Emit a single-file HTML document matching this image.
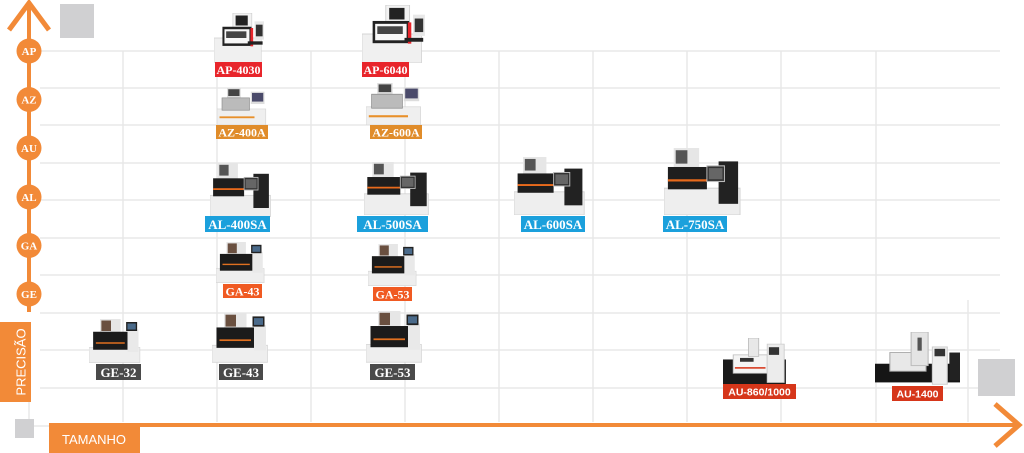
<!DOCTYPE html>
<html><head><meta charset="utf-8"><style>
html,body{margin:0;padding:0;background:#fff;}
svg{display:block;}
.lb{font-family:"Liberation Serif",serif;font-weight:bold;font-size:12px;fill:#fff;text-anchor:middle;}
.ax{font-family:"Liberation Serif",serif;font-weight:bold;font-size:11px;fill:#fff;text-anchor:middle;}
</style></head><body>
<svg width="1024" height="453" viewBox="0 0 1024 453" xmlns="http://www.w3.org/2000/svg">
<defs>
<symbol id="mAL" viewBox="0 0 80 60" preserveAspectRatio="none">
<rect x="0" y="36" width="78" height="24" fill="#eeeeee" stroke="#d4d4d4"/>
<rect x="10" y="0" width="26" height="18" fill="#e6e6e6"/>
<rect x="12" y="2" width="12" height="12" fill="#555"/>
<rect x="4" y="17" width="40" height="20" fill="#1e1e1e"/>
<rect x="4" y="28" width="40" height="2" fill="#e86a1c"/>
<rect x="56" y="12" width="20" height="38" fill="#222"/>
<rect x="44" y="16" width="18" height="14" fill="#333" stroke="#bbb"/>
<rect x="46" y="18" width="14" height="10" fill="#666"/>
</symbol>
<symbol id="mGE" viewBox="0 0 80 60" preserveAspectRatio="none">
<rect x="0" y="38" width="74" height="20" fill="#eeeeee" stroke="#d6d6d6"/>
<rect x="16" y="0" width="30" height="18" fill="#e6e6e6"/>
<rect x="18" y="2" width="14" height="14" fill="#6a5040"/>
<rect x="6" y="17" width="50" height="24" fill="#1b1b1b"/>
<rect x="10" y="31" width="42" height="2" fill="#e07020"/>
<rect x="56" y="14" width="16" height="30" fill="#e9e9e9"/>
<rect x="54" y="4" width="16" height="12" fill="#222"/>
<rect x="56" y="6" width="12" height="8" fill="#4a6a8a"/>
</symbol>
<symbol id="mAP" viewBox="0 0 80 60" preserveAspectRatio="none">
<rect x="0" y="30" width="70" height="30" fill="#f0f0f0" stroke="#d4d4d4"/>
<rect x="28" y="0" width="28" height="18" fill="#f2f2f2" stroke="#ccc"/>
<rect x="32" y="3" width="18" height="12" fill="#222"/>
<rect x="14" y="18" width="40" height="20" fill="#f7f7f7" stroke="#222" stroke-width="3"/>
<rect x="18" y="22" width="30" height="8" fill="#444"/>
<rect x="54" y="18" width="4" height="22" fill="#e8252b"/>
<rect x="60" y="10" width="14" height="22" fill="#e8e8e8"/>
<rect x="62" y="14" width="10" height="14" fill="#333"/>
<rect x="50" y="34" width="22" height="4" fill="#222"/>
</symbol>
<symbol id="mAZ" viewBox="0 0 80 60" preserveAspectRatio="none">
<rect x="0" y="34" width="78" height="26" fill="#efefef" stroke="#d4d4d4"/>
<rect x="4" y="46" width="56" height="3" fill="#e8902a"/>
<rect x="16" y="0" width="22" height="16" fill="#ddd"/>
<rect x="18" y="2" width="18" height="11" fill="#444"/>
<rect x="8" y="16" width="44" height="20" fill="#bbb" stroke="#888"/>
<rect x="54" y="6" width="22" height="20" fill="#ddd"/>
<rect x="56" y="8" width="18" height="14" fill="#4a4a6a"/>
</symbol>
<symbol id="mAU" viewBox="0 0 80 60" preserveAspectRatio="none">
<rect x="0" y="28" width="74" height="32" fill="#1a1a1a"/>
<rect x="12" y="22" width="40" height="24" fill="#f4f4f4" stroke="#bbb"/>
<rect x="20" y="26" width="16" height="5" fill="#333"/>
<rect x="14" y="38" width="36" height="2" fill="#d6361a"/>
<rect x="30" y="0" width="12" height="24" fill="#e8e8e8" stroke="#bbb"/>
<rect x="52" y="8" width="20" height="50" fill="#ececec" stroke="#ccc"/>
<rect x="54" y="12" width="12" height="10" fill="#333"/>
</symbol>
<symbol id="mAU2" viewBox="0 0 80 60" preserveAspectRatio="none">
<rect x="0" y="34" width="80" height="20" fill="#151515"/>
<rect x="14" y="22" width="34" height="20" fill="#e8e8e8" stroke="#aaa"/>
<rect x="34" y="0" width="16" height="36" fill="#e4e4e4" stroke="#bbb"/>
<rect x="40" y="6" width="4" height="14" fill="#555"/>
<rect x="54" y="16" width="14" height="40" fill="#eee" stroke="#ccc"/>
<rect x="56" y="18" width="10" height="8" fill="#333"/>
<rect x="70" y="22" width="10" height="30" fill="#222"/>
</symbol>
</defs>

<g stroke="#e8e8e8" stroke-width="1.5">
<line x1="40" y1="51" x2="1000" y2="51"/>
<line x1="40" y1="88" x2="1000" y2="88"/>
<line x1="40" y1="125" x2="1000" y2="125"/>
<line x1="40" y1="163" x2="1000" y2="163"/>
<line x1="40" y1="200" x2="1000" y2="200"/>
<line x1="40" y1="238" x2="1000" y2="238"/>
<line x1="40" y1="275" x2="1000" y2="275"/>
<line x1="40" y1="313" x2="1000" y2="313"/>
<line x1="40" y1="350" x2="1000" y2="350"/>
<line x1="40" y1="388" x2="1000" y2="388"/>
<line x1="123" y1="51" x2="123" y2="422"/>
<line x1="217" y1="51" x2="217" y2="422"/>
<line x1="311" y1="51" x2="311" y2="422"/>
<line x1="405" y1="51" x2="405" y2="422"/>
<line x1="499" y1="51" x2="499" y2="422"/>
<line x1="593" y1="51" x2="593" y2="422"/>
<line x1="687" y1="51" x2="687" y2="422"/>
<line x1="781" y1="51" x2="781" y2="422"/>
<line x1="876" y1="51" x2="876" y2="422"/>
<line x1="968" y1="300" x2="968" y2="422"/>
<line x1="29" y1="400" x2="29" y2="425"/>
<line x1="33" y1="426" x2="50" y2="426"/>
</g>

<rect x="60" y="4" width="34" height="34" fill="#d0d0d2"/>
<rect x="15" y="419" width="19" height="19" fill="#d0d0d2"/>
<rect x="978" y="359" width="37" height="37" fill="#d0d0d2"/>

<g stroke="#f28a38" fill="none">
<line x1="29" y1="3" x2="29" y2="312" stroke-width="4"/>
<polyline points="9,30 29,3 49,30" stroke-width="5"/>
<line x1="50" y1="425" x2="1018" y2="425" stroke-width="4"/>
<polyline points="995,404 1019,425 995,446" stroke-width="5"/>
</g>
<rect x="0" y="322" width="31" height="80" fill="#f28a38"/>
<text x="22" y="362" transform="rotate(-90 22 362)" font-family="Liberation Sans,sans-serif" font-size="13" fill="#fff" text-anchor="middle" dominant-baseline="middle">PRECISÃO</text>
<rect x="49" y="423" width="91" height="30" fill="#f28a38"/>
<text x="94" y="444" font-family="Liberation Sans,sans-serif" font-size="13" fill="#fff" text-anchor="middle">TAMANHO</text>

<g fill="#f28a38">
<circle cx="29" cy="51" r="12.5"/><circle cx="29" cy="99.5" r="12.5"/><circle cx="29" cy="148" r="12.5"/>
<circle cx="29" cy="197" r="12.5"/><circle cx="29" cy="245.5" r="12.5"/><circle cx="29" cy="294" r="12.5"/>
</g>
<text class="ax" x="29" y="55">AP</text>
<text class="ax" x="29" y="103.5">AZ</text>
<text class="ax" x="29" y="152">AU</text>
<text class="ax" x="29" y="201">AL</text>
<text class="ax" x="29" y="249.5">GA</text>
<text class="ax" x="29" y="298">GE</text>

<use href="#mAP" x="214" y="13" width="54" height="50"/>
<use href="#mAP" x="362" y="5" width="68" height="58"/>
<use href="#mAZ" x="217" y="88" width="50" height="37"/>
<use href="#mAZ" x="366" y="83" width="56" height="42"/>
<use href="#mAL" x="210" y="163" width="62" height="54"/>
<use href="#mAL" x="364" y="162" width="66" height="53"/>
<use href="#mAL" x="514" y="157" width="72" height="58"/>
<use href="#mAL" x="664" y="148" width="78" height="67"/>
<use href="#mGE" x="216" y="242" width="52" height="42"/>
<use href="#mGE" x="368" y="244" width="52" height="43"/>
<use href="#mGE" x="89" y="319" width="55" height="45"/>
<use href="#mGE" x="212" y="313" width="60" height="51"/>
<use href="#mGE" x="366" y="311" width="60" height="53"/>
<use href="#mAU" x="723" y="338" width="68" height="46"/>
<use href="#mAU2" x="875" y="332" width="85" height="56"/>

<rect x="215" y="62" width="47" height="15" fill="#e8252b"/><text class="lb" x="238.5" y="74">AP-4030</text>
<rect x="362" y="62" width="47" height="15" fill="#e8252b"/><text class="lb" x="385.5" y="74">AP-6040</text>
<rect x="216" y="125" width="52" height="14" fill="#e08c2a"/><text class="lb" x="242" y="136.5">AZ-400A</text>
<rect x="370" y="125" width="52" height="14" fill="#e08c2a"/><text class="lb" x="396" y="136.5">AZ-600A</text>
<rect x="205" y="216" width="65" height="16" fill="#1ba0dc"/><text class="lb" x="237.5" y="229" style="font-size:13px">AL-400SA</text>
<rect x="357" y="216" width="71" height="16" fill="#1ba0dc"/><text class="lb" x="392.5" y="229" style="font-size:13px">AL-500SA</text>
<rect x="521" y="216" width="64" height="16" fill="#1ba0dc"/><text class="lb" x="553" y="229" style="font-size:13px">AL-600SA</text>
<rect x="663" y="216" width="64" height="16" fill="#1ba0dc"/><text class="lb" x="695" y="229" style="font-size:13px">AL-750SA</text>
<rect x="223" y="284" width="39" height="14" fill="#f05a22"/><text class="lb" x="242.5" y="295.5">GA-43</text>
<rect x="373" y="287" width="39" height="14" fill="#f05a22"/><text class="lb" x="392.5" y="298.5">GA-53</text>
<rect x="96" y="364" width="45" height="16" fill="#4a4a4a"/><text class="lb" x="118.5" y="377" style="font-size:13px">GE-32</text>
<rect x="219" y="364" width="44" height="16" fill="#4a4a4a"/><text class="lb" x="241" y="377" style="font-size:13px">GE-43</text>
<rect x="370" y="364" width="45" height="16" fill="#4a4a4a"/><text class="lb" x="392.5" y="377" style="font-size:13px">GE-53</text>
<rect x="723" y="384" width="73" height="15" fill="#d6361a"/><text class="lb" x="759.5" y="395.5" style="font-family:'Liberation Sans',sans-serif;font-size:10.5px">AU-860/1000</text>
<rect x="892" y="386" width="51" height="15" fill="#d6361a"/><text class="lb" x="917.5" y="397.5" style="font-family:'Liberation Sans',sans-serif;font-size:10.5px">AU-1400</text>
</svg>
</body></html>
